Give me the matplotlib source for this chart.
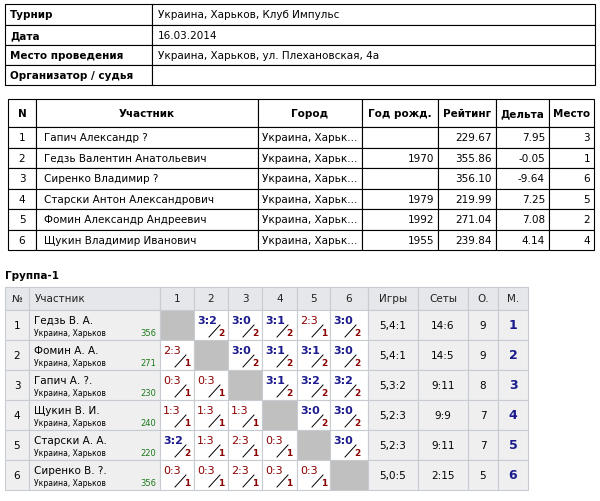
import matplotlib.pyplot as plt
from matplotlib.patches import Rectangle

# top info table
info_labels = ['Турнир', 'Дата', 'Место проведения', 'Организатор / судья']
info_values = ['Украина, Харьков, Клуб Импульс', '16.03.2014',
               'Украина, Харьков, ул. Плехановская, 4а', '']

# participants table
p_head = ['N', 'Участник', 'Город', 'Год рожд.', 'Рейтинг', 'Дельта', 'Место']
p_names = ['Гапич Александр ?', 'Гедзь Валентин Анатольевич', 'Сиренко Владимир ?',
           'Старски Антон Александрович', 'Фомин Александр Андреевич',
           'Щукин Владимир Иванович']
p_city = ['Украина, Харьк...'] * 6
p_year = ['', '1970', '', '1979', '1992', '1955']
p_rating = [229.67, 355.86, 356.10, 219.99, 271.04, 239.84]
p_delta = [7.95, -0.05, -9.64, 7.25, 7.08, 4.14]
p_place = [3, 1, 6, 5, 2, 4]

# group table
g_names = ['Гедзь В. А.', 'Фомин А. А.', 'Гапич А. ?.', 'Щукин В. И.',
           'Старски А. А.', 'Сиренко В. ?.']
g_rating = [356, 271, 230, 240, 220, 356]
scores = [
    [None, '3:2', '3:0', '3:1', '2:3', '3:0'],
    ['2:3', None, '3:0', '3:1', '3:1', '3:0'],
    ['0:3', '0:3', None, '3:1', '3:2', '3:2'],
    ['1:3', '1:3', '1:3', None, '3:0', '3:0'],
    ['3:2', '1:3', '2:3', '0:3', None, '3:0'],
    ['0:3', '0:3', '2:3', '0:3', '0:3', None],
]
games = ['5,4:1', '5,4:1', '5,3:2', '5,2:3', '5,2:3', '5,0:5']
sets = ['14:6', '14:5', '9:11', '9:9', '9:11', '2:15']
points = [9, 9, 8, 7, 7, 5]
ranks = [1, 2, 3, 4, 5, 6]

fig = plt.figure(figsize=(6, 5.02), dpi=100)
ax = fig.add_axes([0, 0, 1, 1])
ax.set_xlim(0, 600)
ax.set_ylim(502, 0)
ax.axis('off')
plt.rcParams['font.family'] = ['DejaVu Sans']
FS = 7.5


def cell(x0, x1, y0, y1, fc='white', ec='black', lw=0.8):
    ax.add_patch(Rectangle((x0, y0), x1 - x0, y1 - y0, fc=fc, ec=ec, lw=lw))


# info table
ys = [5, 26, 46, 66, 86]
for i in range(4):
    cell(5, 152, ys[i], ys[i + 1])
    cell(152, 595, ys[i], ys[i + 1])
    ax.text(10, (ys[i] + ys[i + 1]) / 2, info_labels[i], weight='bold', fontsize=FS, va='center')
    ax.text(158, (ys[i] + ys[i + 1]) / 2, info_values[i], fontsize=FS, va='center')

# participants table
cx = [8, 36, 258, 362, 438, 496, 549, 594]
ry = [100, 128] + [128 + 20.5 * (k + 1) for k in range(6)]
for j, h in enumerate(p_head):
    cell(cx[j], cx[j + 1], ry[0], ry[1])
    ax.text((cx[j] + cx[j + 1]) / 2, (ry[0] + ry[1]) / 2, h, weight='bold',
            fontsize=FS, ha='center', va='center')
for i in range(6):
    y0, y1 = ry[i + 1], ry[i + 2]
    ym = (y0 + y1) / 2
    for j in range(7):
        cell(cx[j], cx[j + 1], y0, y1)
    ax.text((cx[0] + cx[1]) / 2, ym, str(i + 1), fontsize=FS, ha='center', va='center')
    ax.text(cx[1] + 8, ym, p_names[i], fontsize=FS, va='center')
    ax.text(cx[2] + 4, ym, p_city[i], fontsize=FS, va='center')
    ax.text(cx[4] - 4, ym, p_year[i], fontsize=FS, va='center', ha='right')
    ax.text(cx[5] - 4, ym, '%.2f' % p_rating[i], fontsize=FS, va='center', ha='right')
    ax.text(cx[6] - 4, ym, '%.2f' % p_delta[i], fontsize=FS, va='center', ha='right')
    ax.text(cx[7] - 4, ym, str(p_place[i]), fontsize=FS, va='center', ha='right')

# group table
ax.text(5, 276, 'Группа-1', weight='bold', fontsize=FS, va='center')
gx = [5, 29, 160, 194, 228, 262, 297, 330, 368, 418, 468, 498, 528]
g_head = ['№', 'Участник', '1', '2', '3', '4', '5', '6', 'Игры', 'Сеты', 'О.', 'М.']
gc = '#c8cbd2'
hy0, hy1 = 288, 311
for j, h in enumerate(g_head):
    cell(gx[j], gx[j + 1], hy0, hy1, fc='#e6e7ea', ec=gc)
    if j == 1:
        ax.text(gx[j] + 6, (hy0 + hy1) / 2, h, fontsize=FS, va='center', color='#222222')
    else:
        ax.text((gx[j] + gx[j + 1]) / 2, (hy0 + hy1) / 2, h, fontsize=FS,
                ha='center', va='center', color='#222222')
rh = 30
blue, red = '#1a1a8c', '#8b0000'
for i in range(6):
    y0 = hy1 + i * rh
    y1 = y0 + rh
    ym = (y0 + y1) / 2
    cell(gx[0], gx[1], y0, y1, fc='#efeff0', ec=gc)
    ax.text((gx[0] + gx[1]) / 2, ym, str(i + 1), fontsize=FS, ha='center', va='center')
    cell(gx[1], gx[2], y0, y1, fc='#efeff0', ec=gc)
    ax.text(gx[1] + 5, y0 + 10, g_names[i], fontsize=FS, va='center')
    ax.text(gx[1] + 5, y0 + 23, 'Украина, Харьков', fontsize=5.5, va='center')
    ax.text(gx[2] - 4, y0 + 23, str(g_rating[i]), fontsize=6, va='center', ha='right',
            color='#1a7a1a')
    for j in range(6):
        x0, x1 = gx[2 + j], gx[3 + j]
        s = scores[i][j]
        if s is None:
            cell(x0, x1, y0, y1, fc='#c0c0c0', ec=gc)
            continue
        cell(x0, x1, y0, y1, fc='white', ec=gc)
        win = int(s[0]) > int(s[2])
        ax.text(x0 + 3, y0 + 10, s, fontsize=8, va='center',
                color=blue if win else red, weight='bold' if win else 'normal')
        ax.plot([x0 + 15, x0 + 26], [y0 + 27, y0 + 15], color='black', lw=0.7)
        ax.text(x0 + 24, y0 + 23, '2' if win else '1', fontsize=6.5, va='center',
                color=red, weight='bold')
    vals = [games[i], sets[i], str(points[i])]
    for k, v in enumerate(vals):
        cell(gx[8 + k], gx[9 + k], y0, y1, fc='#efeff0', ec=gc)
        ax.text((gx[8 + k] + gx[9 + k]) / 2, ym, v, fontsize=FS, ha='center', va='center')
    cell(gx[11], gx[12], y0, y1, fc='#efeff0', ec=gc)
    ax.text((gx[11] + gx[12]) / 2, ym, str(ranks[i]), fontsize=9, ha='center',
            va='center', color=blue, weight='bold')

fig.savefig('out.png', dpi=100)
